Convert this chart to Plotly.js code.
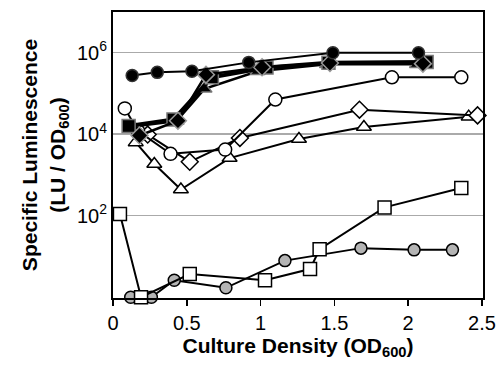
<!DOCTYPE html>
<html><head><meta charset="utf-8">
<script src="https://cdn.plot.ly/plotly-3.0.1.min.js"></script>
<style>html,body{margin:0;padding:0;background:#fff}#chart{width:499px;height:366px}</style>
</head><body><div id="chart"></div>
<script>
// Filled circles
const fcX = [0.13, 0.30, 0.535, 0.92, 1.49, 2.07];
const fcY = [2.75e5, 3.3e5, 3.5e5, 5.8e5, 1.0e6, 1.0e6];
// Filled squares
const fsX = [0.106, 0.41, 0.67, 1.04, 1.46, 2.125];
const fsY = [1.6e4, 2.3e4, 2.5e5, 4.35e5, 5.7e5, 5.9e5];
// Filled diamonds
const fdX = [0.18, 0.44, 0.63, 1.01, 1.47, 2.10];
const fdY = [9.3e3, 2.15e4, 2.9e5, 4.4e5, 5.6e5, 5.4e5];
// Filled triangles
const ftX = [0.138, 0.43, 0.62, 0.98, 1.45, 2.06];
const ftY = [1.55e4, 2.1e4, 1.3e5, 3.5e5, 5.2e5, 5.2e5];
// Open circles
const ocX = [0.08, 0.17, 0.39, 0.76, 1.10, 1.89, 2.36];
const ocY = [4.3e4, 1.2e4, 3.3e3, 4.2e3, 7.1e4, 2.5e5, 2.5e5];
// Open diamonds
const odX = [0.235, 0.52, 0.86, 1.67, 2.47];
const odY = [9.8e3, 2.1e3, 8.1e3, 4.0e4, 2.9e4];
// Open triangles
const otX = [0.154, 0.28, 0.46, 0.79, 1.26, 1.70, 2.41];
const otY = [6.3e3, 1.86e3, 440, 2.6e3, 7.6e3, 1.5e4, 2.7e4];
// Open squares
const osX = [0.047, 0.19, 0.52, 1.03, 1.335, 1.40, 1.84, 2.36];
const osY = [110, 1.0, 3.7, 2.6, 4.9, 15, 160, 480];
// Gray circles
const gcX = [0.12, 0.26, 0.415, 0.765, 1.165, 1.68, 2.04, 2.30];
const gcY = [1.0, 1.0, 2.6, 1.7, 7.9, 16, 14.5, 14.5];

const xTicks = [0, 0.5, 1, 1.5, 2, 2.5];
const xTickText = ['0', '0.5', '1', '1.5', '2', '2.5'];
const yTicks = [1e2, 1e4, 1e6];
const yTickText = ['10<sup>2</sup>', '10<sup>4</sup>', '10<sup>6</sup>'];

function tr(x, y, symbol, fill, lw, size, edge) {
  return {
    x: x, y: y, type: 'scatter', mode: 'lines+markers', cliponaxis: false,
    line: {color: '#000', width: lw},
    marker: {symbol: symbol, size: size, color: fill, line: {color: edge || '#000', width: 1.5}}
  };
}

const data = [
  tr(gcX, gcY, 'circle', '#b4b4b4', 2, 12),
  tr(osX, osY, 'square', '#fff', 2, 13),
  tr(otX, otY, 'triangle-up', '#fff', 2, 13),
  tr(odX, odY, 'diamond', '#fff', 2, 13),
  tr(ocX, ocY, 'circle', '#fff', 2, 13),
  tr(ftX, ftY, 'triangle-up', '#000', 2.5, 13, '#777'),
  tr(fsX, fsY, 'square', '#000', 4, 13, '#777'),
  tr(fdX, fdY, 'diamond', '#000', 2.5, 13, '#999'),
  tr(fcX, fcY, 'circle', '#000', 2, 12, '#333')
];

const layout = {
  width: 499, height: 366,
  margin: {l: 113, r: 16, t: 12, b: 68},
  paper_bgcolor: '#fff', plot_bgcolor: '#fff',
  showlegend: false,
  font: {family: 'Liberation Sans, Arial, sans-serif', color: '#000'},
  xaxis: {
    range: [0, 2.507], tickvals: xTicks, ticktext: xTickText,
    ticks: 'outside', ticklen: 6, tickwidth: 1.5, tickcolor: '#000',
    showline: true, linewidth: 2, linecolor: '#000', mirror: true,
    showgrid: false, zeroline: false,
    tickfont: {size: 20},
    title: {text: '<b>Culture Density (OD<sub>600</sub>)</b>', font: {size: 21}, standoff: 0}
  },
  yaxis: {
    type: 'log', range: [-0.02, 7.0], tickvals: yTicks, ticktext: yTickText,
    ticks: '', showline: true, linewidth: 2, linecolor: '#000', mirror: true,
    showgrid: true, gridcolor: '#aaaaaa', gridwidth: 1.5, zeroline: false,
    tickfont: {size: 20},
    title: {text: '<b>Specific Luminescence<br>(LU / OD<sub>600</sub>)</b>', font: {size: 21}, standoff: 6}
  }
};

Plotly.newPlot('chart', data, layout, {displayModeBar: false, staticPlot: true});
</script>
</body></html>
